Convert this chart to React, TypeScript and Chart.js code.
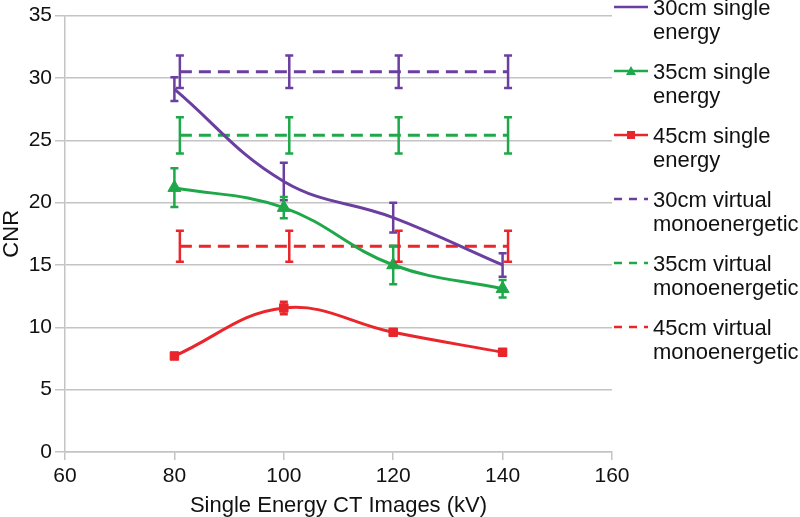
import { useEffect, useRef } from "react";
import { Chart, registerables } from "chart.js";
Chart.register(...registerables);

const FONT = '"Liberation Sans", Arial, Helvetica, sans-serif';

const PURPLE = "#6b3fa0";
const GREEN = "#1fa84a";
const RED = "#e8262b";

const xSingle = [80, 100, 120, 140];
const xVirtual = [81, 101, 121, 141];

const cnr30Single = [29.1, 21.7, 18.8, 15.0];
const err30Single = [0.95, 1.5, 1.2, 0.95];
const cnr35Single = [21.2, 19.6, 15.0, 13.1];
const err35Single = [1.55, 0.85, 1.55, 0.7];
const cnr45Single = [7.7, 11.55, 9.6, 8.0];
const err45Single = [0.15, 0.5, 0.2, 0.15];

const cnr30Virtual = [30.5, 30.5, 30.5, 30.5];
const err30Virtual = [1.3, 1.3, 1.3, 1.3];
const cnr35Virtual = [25.4, 25.4, 25.4, 25.4];
const err35Virtual = [1.45, 1.45, 1.45, 1.45];
const cnr45Virtual = [16.5, 16.5, 16.5, 16.5];
const err45Virtual = [1.25, 1.25, 1.25, 1.25];

const legendLabels = [
  ["30cm single", "energy"],
  ["35cm single", "energy"],
  ["45cm single", "energy"],
  ["30cm virtual", "monoenergetic"],
  ["35cm virtual", "monoenergetic"],
  ["45cm virtual", "monoenergetic"],
];

const xTicks = [60, 80, 100, 120, 140, 160];
const yTicks = [0, 5, 10, 15, 20, 25, 30, 35];

const pts = (xs: number[], ys: number[]) => xs.map((x, i) => ({ x, y: ys[i] }));

export default function App() {
  const ref = useRef<HTMLCanvasElement | null>(null);
  useEffect(() => {
    document.body.style.margin = "0";
    const canvas = ref.current!;
    const errors = [err30Single, err35Single, err45Single, err30Virtual, err35Virtual, err45Virtual];

    const errorBarPlugin = {
      id: "errorBars",
      afterDatasetsDraw(chart: any) {
        const ctx = chart.ctx;
        const ys = chart.scales.y;
        chart.data.datasets.forEach((ds: any, di: number) => {
          const meta = chart.getDatasetMeta(di);
          const errs = errors[di];
          ctx.save();
          ctx.strokeStyle = ds.borderColor;
          ctx.lineWidth = 2.5;
          ctx.setLineDash([]);
          meta.data.forEach((el: any, i: number) => {
            const v = ds.data[i].y;
            const e = errs[i];
            const x = el.x;
            const yt = ys.getPixelForValue(v + e);
            const yb = ys.getPixelForValue(v - e);
            ctx.beginPath();
            ctx.moveTo(x, yt);
            ctx.lineTo(x, yb);
            ctx.moveTo(x - 4, yt);
            ctx.lineTo(x + 4, yt);
            ctx.moveTo(x - 4, yb);
            ctx.lineTo(x + 4, yb);
            ctx.stroke();
          });
          ctx.restore();
        });
      },
    };

    const legendPlugin = {
      id: "sideLegend",
      afterDraw(chart: any) {
        const ctx = chart.ctx;
        chart.data.datasets.forEach((ds: any, i: number) => {
          const y = 7 + 64 * i;
          ctx.save();
          ctx.strokeStyle = ds.borderColor;
          ctx.lineWidth = 2.5;
          ctx.setLineDash(ds.borderDash && ds.borderDash.length ? [8, 7] : []);
          ctx.beginPath();
          ctx.moveTo(614, y);
          ctx.lineTo(648, y);
          ctx.stroke();
          ctx.setLineDash([]);
          ctx.fillStyle = ds.borderColor;
          if (ds.pointStyle === "triangle") {
            ctx.beginPath();
            ctx.moveTo(631, y - 5);
            ctx.lineTo(636, y + 4);
            ctx.lineTo(626, y + 4);
            ctx.closePath();
            ctx.fill();
          } else if (ds.pointStyle === "rect" && ds.pointRadius > 0) {
            ctx.fillRect(627, y - 4, 8, 8);
          }
          ctx.fillStyle = "#111";
          ctx.font = `22px ${FONT}`;
          ctx.textBaseline = "middle";
          ctx.textAlign = "left";
          const lines = legendLabels[i];
          lines.forEach((t, k) => ctx.fillText(t, 653, y + 2 + 24 * k));
          ctx.restore();
        });
      },
    };

    const chart = new Chart(canvas, {
      type: "line",
      data: {
        datasets: [
          {
            label: "30cm single energy",
            data: pts(xSingle, cnr30Single),
            borderColor: PURPLE,
            backgroundColor: PURPLE,
            borderWidth: 3,
            pointRadius: 0,
            pointStyle: "circle",
            tension: 0.4,
            borderDash: [],
          },
          {
            label: "35cm single energy",
            data: pts(xSingle, cnr35Single),
            borderColor: GREEN,
            backgroundColor: GREEN,
            borderWidth: 3,
            pointRadius: 7.5,
            pointStyle: "triangle",
            pointBorderWidth: 1,
            tension: 0.4,
            borderDash: [],
          },
          {
            label: "45cm single energy",
            data: pts(xSingle, cnr45Single),
            borderColor: RED,
            backgroundColor: RED,
            borderWidth: 3,
            pointRadius: 6,
            pointStyle: "rect",
            pointBorderWidth: 1,
            tension: 0.4,
            borderDash: [],
          },
          {
            label: "30cm virtual monoenergetic",
            data: pts(xVirtual, cnr30Virtual),
            borderColor: PURPLE,
            backgroundColor: PURPLE,
            borderWidth: 3,
            pointRadius: 0,
            borderDash: [12, 7],
            tension: 0,
          },
          {
            label: "35cm virtual monoenergetic",
            data: pts(xVirtual, cnr35Virtual),
            borderColor: GREEN,
            backgroundColor: GREEN,
            borderWidth: 3,
            pointRadius: 0,
            borderDash: [12, 7],
            tension: 0,
          },
          {
            label: "45cm virtual monoenergetic",
            data: pts(xVirtual, cnr45Virtual),
            borderColor: RED,
            backgroundColor: RED,
            borderWidth: 3,
            pointRadius: 0,
            borderDash: [12, 7],
            tension: 0,
          },
        ] as any,
      },
      options: {
        animation: false,
        responsive: false,
        layout: { padding: { left: 0, right: 188, top: 6, bottom: 0 } },
        plugins: { legend: { display: false }, tooltip: { enabled: false } },
        scales: {
          x: {
            type: "linear",
            min: 60,
            max: 160,
            afterBuildTicks: (s: any) => {
              s.ticks = xTicks.map((v) => ({ value: v }));
            },
            afterFit: (s: any) => {
              s.height = 65;
            },
            ticks: { color: "#111", font: { family: FONT, size: 21 }, padding: 4, maxRotation: 0 },
            grid: { drawOnChartArea: false, drawTicks: true, tickLength: 8, color: "#c4c4c4", lineWidth: 1.5 },
            border: { color: "#c4c4c4", width: 1.5 },
            title: {
              display: true,
              text: "Single Energy CT Images (kV)",
              color: "#111",
              font: { family: FONT, size: 22, lineHeight: 1 },
              padding: { top: 0, bottom: 0 },
            },
          },
          y: {
            type: "linear",
            min: 0,
            max: 35,
            afterBuildTicks: (s: any) => {
              s.ticks = yTicks.map((v) => ({ value: v }));
            },
            afterFit: (s: any) => {
              s.width = 65;
            },
            ticks: { color: "#111", font: { family: FONT, size: 21 }, padding: 3 },
            grid: { drawOnChartArea: true, drawTicks: true, tickLength: 10, color: "#c4c4c4", lineWidth: 1.5 },
            border: { color: "#c4c4c4", width: 1.5 },
            title: {
              display: true,
              text: "CNR",
              color: "#111",
              font: { family: FONT, size: 22, lineHeight: 1.1 },
              padding: { top: 0, bottom: 0 },
            },
          },
        },
      } as any,
      plugins: [errorBarPlugin, legendPlugin],
    });
    return () => chart.destroy();
  }, []);
  return (
    <canvas
      ref={ref}
      width={800}
      height={517}
      style={{ position: "absolute", left: 0, top: 0, width: 800, height: 517, display: "block", background: "#fff" }}
    />
  );
}
